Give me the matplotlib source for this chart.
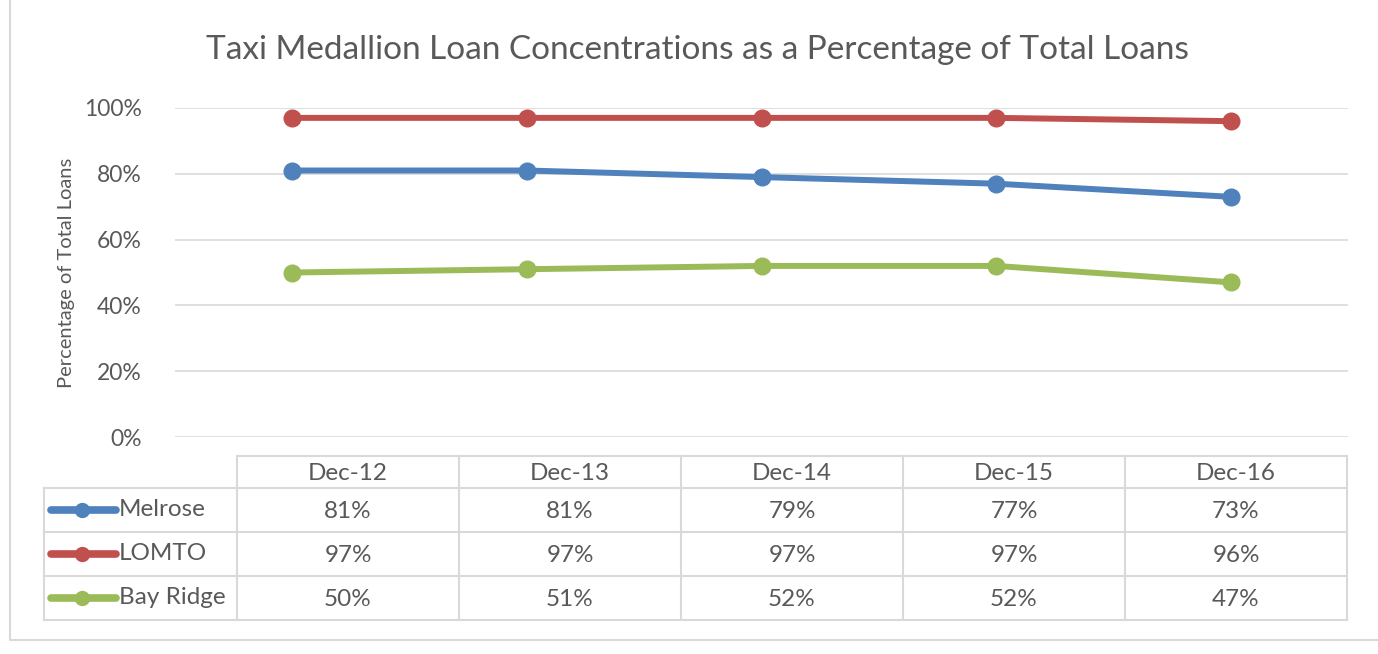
import matplotlib.pyplot as plt
from matplotlib.lines import Line2D

# data
categories = ['Dec-12', 'Dec-13', 'Dec-14', 'Dec-15', 'Dec-16']
series_names = ['Melrose', 'LOMTO', 'Bay Ridge']
melrose = [81, 81, 79, 77, 73]
lomto = [97, 97, 97, 97, 96]
bay_ridge = [50, 51, 52, 52, 47]
series_values = [melrose, lomto, bay_ridge]
series_colors = ['#4F81BD', '#C0504D', '#9BBB59']
y_ticks = [0, 20, 40, 60, 80, 100]

W, H = 1378, 654
text_col = '#595959'
grid_col = '#D9D9D9'
plt.rcParams['font.family'] = ['Lato', 'DejaVu Sans']

fig = plt.figure(figsize=(W / 100, H / 100), dpi=100)
fig.patch.set_facecolor('white')

# plot area (pixel positions from the reference)
px_left, px_right, px_top, px_bottom = 175, 1348, 108, 437
ax = fig.add_axes([px_left / W, 1 - px_bottom / H,
                   (px_right - px_left) / W, (px_bottom - px_top) / H])
n = len(categories)
ax.set_xlim(-0.5, n - 0.5)
ax.set_ylim(0, 100)
ax.set_yticks(y_ticks)
ax.set_yticklabels([f'{t}%' for t in y_ticks], fontsize=16.5, color=text_col)
ax.set_xticks([])
ax.tick_params(axis='y', length=0, pad=24)
for s in ax.spines.values():
    s.set_visible(False)
ax.yaxis.grid(True, color=grid_col, lw=1.2)
ax.set_axisbelow(True)
ax.set_ylabel('Percentage of Total Loans', fontsize=14.5, color=text_col, labelpad=6)

for vals, col in zip(series_values, series_colors):
    ax.plot(range(n), vals, color=col, lw=4.3, marker='o', markersize=12,
            solid_capstyle='round')

# overlay in pixel coordinates for title, border and data table
ov = fig.add_axes([0, 0, 1, 1], zorder=-1)
ov.set_xlim(0, W)
ov.set_ylim(H, 0)
ov.axis('off')

# outer chart border
ov.plot([10, 10, W + 5], [-5, 640, 640], color='#D9D9D9', lw=1.5)

ov.text(697, 50, 'Taxi Medallion Loan Concentrations as a Percentage of Total Loans',
        ha='center', va='center', fontsize=24, color=text_col)

# table geometry
tbl_left, lab_right, tbl_right = 44, 237, 1347
hdr_top, row_top, row_h = 456, 488, 44
col_w = (tbl_right - lab_right) / n
rows_bottom = row_top + row_h * len(series_names)
bcol = '#D9D9D9'
lw_t = 1.5
fs_t = 17.5

# header row
ov.plot([lab_right, tbl_right], [hdr_top, hdr_top], color=bcol, lw=lw_t)
for i in range(n + 1):
    x = lab_right + i * col_w
    ov.plot([x, x], [hdr_top, rows_bottom], color=bcol, lw=lw_t)
for i, c in enumerate(categories):
    ov.text(lab_right + (i + 0.5) * col_w, (hdr_top + row_top) / 2 + 1, c,
            ha='center', va='center', fontsize=fs_t, color=text_col)

# body rows
for r in range(len(series_names) + 1):
    y = row_top + r * row_h
    ov.plot([tbl_left, tbl_right], [y, y], color=bcol, lw=lw_t)
ov.plot([tbl_left, tbl_left], [row_top, rows_bottom], color=bcol, lw=lw_t)

for r, (name, vals, col) in enumerate(zip(series_names, series_values, series_colors)):
    yc = row_top + (r + 0.5) * row_h
    ov.add_line(Line2D([51, 116], [yc, yc], color=col, lw=5.5, solid_capstyle='round'))
    ov.plot([82], [yc], marker='o', markersize=10, color=col)
    ov.text(119, yc, name, ha='left', va='center', fontsize=fs_t, color=text_col)
    for i, v in enumerate(vals):
        ov.text(lab_right + (i + 0.5) * col_w, yc + 1, f'{v}%',
                ha='center', va='center', fontsize=fs_t, color=text_col)

fig.savefig('out.png', dpi=100, facecolor='white')
